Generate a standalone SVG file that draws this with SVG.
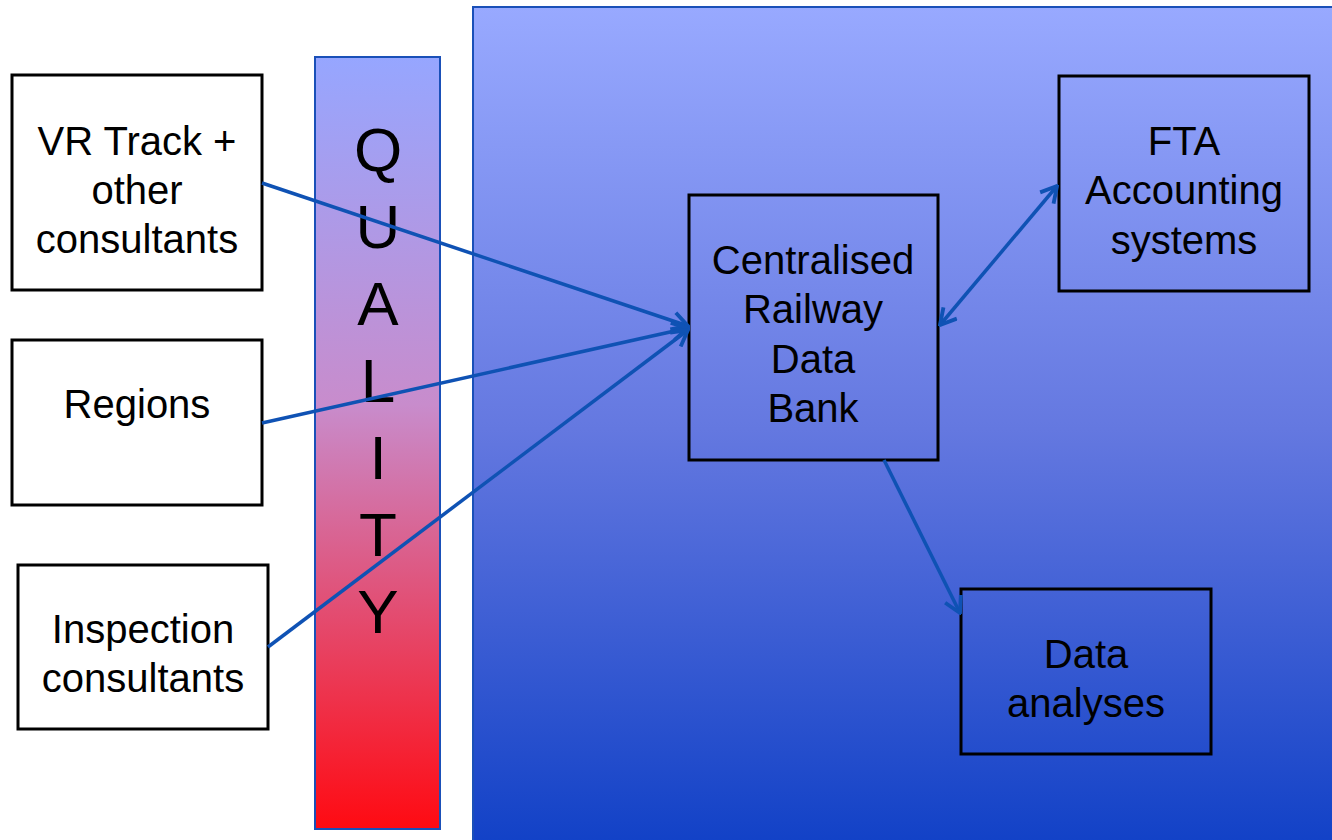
<svg xmlns="http://www.w3.org/2000/svg" width="1332" height="840" viewBox="0 0 1332 840">
<defs>
<linearGradient id="gq" x1="0" y1="0" x2="0" y2="1">
<stop offset="0" stop-color="#96a6ff"/>
<stop offset="0.45" stop-color="#c88ccc"/>
<stop offset="1" stop-color="#ff0a12"/>
</linearGradient>
<linearGradient id="gp" x1="0" y1="0" x2="0" y2="1">
<stop offset="0" stop-color="#98a9ff"/>
<stop offset="0.5" stop-color="#6478e0"/>
<stop offset="1" stop-color="#1040c6"/>
</linearGradient>
<marker id="ah" viewBox="0 0 12 12" refX="11" refY="6" markerWidth="6" markerHeight="6" orient="auto-start-reverse" markerUnits="strokeWidth">
<path d="M2,1 L11,6 L2,11" fill="none" stroke="#0f52b4" stroke-width="2.2"/>
</marker>
</defs>
<style>
.box{fill:none;stroke:#000;stroke-width:3}
.wbox{fill:#fff;stroke:#000;stroke-width:3}
.t{font-family:"Liberation Sans",Arial,sans-serif;font-size:40px;fill:#000;text-anchor:middle}
.q{font-family:"Liberation Sans",Arial,sans-serif;font-size:62px;fill:#000;text-anchor:middle}
.c{fill:none;stroke:#0f52b4;stroke-width:3.5;marker-end:url(#ah)}
</style>
<rect width="1332" height="840" fill="#fff"/>
<g id="panel">
<rect x="473" y="7" width="870" height="845" fill="url(#gp)" stroke="#1a50b8" stroke-width="2"/>
</g>
<g id="quality">
<rect x="315" y="57" width="125" height="772" fill="url(#gq)" stroke="#1a50b8" stroke-width="2"/>
<text class="q" x="378" y="171">Q</text>
<text class="q" x="378" y="248">U</text>
<text class="q" x="378" y="325">A</text>
<text class="q" x="378" y="402">L</text>
<text class="q" x="378" y="479">I</text>
<text class="q" x="378" y="556">T</text>
<text class="q" x="378" y="633">Y</text>
</g>
<g id="vr">
<rect class="wbox" x="12" y="75" width="250" height="215"/>
<text class="t" x="137" y="155">VR Track +</text>
<text class="t" x="137" y="204">other</text>
<text class="t" x="137" y="253">consultants</text>
</g>
<g id="regions">
<rect class="wbox" x="12" y="340" width="250" height="165"/>
<text class="t" x="137" y="418">Regions</text>
</g>
<g id="inspection">
<rect class="wbox" x="18" y="565" width="250" height="164"/>
<text class="t" x="143" y="643">Inspection</text>
<text class="t" x="143" y="692">consultants</text>
</g>
<g id="crdb">
<rect class="box" x="689" y="195" width="249" height="265"/>
<text class="t" x="813" y="274">Centralised</text>
<text class="t" x="813" y="323">Railway</text>
<text class="t" x="813" y="373">Data</text>
<text class="t" x="813" y="422">Bank</text>
</g>
<g id="fta">
<rect class="box" x="1059" y="76" width="250" height="215"/>
<text class="t" x="1184" y="155">FTA</text>
<text class="t" x="1184" y="204">Accounting</text>
<text class="t" x="1184" y="254">systems</text>
</g>
<g id="analyses">
<rect class="box" x="961" y="589" width="250" height="165"/>
<text class="t" x="1086" y="668">Data</text>
<text class="t" x="1086" y="717">analyses</text>
</g>
<g id="connectors">
<line class="c" x1="262" y1="183" x2="688" y2="326"/>
<line class="c" x1="262" y1="423" x2="688" y2="328"/>
<line class="c" x1="268" y1="647" x2="688" y2="330"/>
<line class="c" x1="940" y1="325" x2="1057" y2="186" style="marker-start:url(#ah)"/>
<line class="c" x1="884" y1="460" x2="960" y2="613"/>
</g>
</svg>
